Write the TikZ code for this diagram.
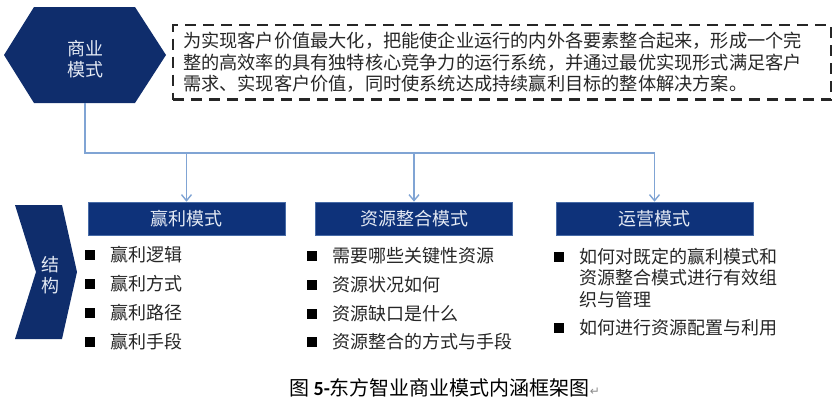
\documentclass[tikz,border=0pt]{standalone}
\usepackage{fontspec}
\setmainfont{Noto Sans CJK SC}
\newfontfamily\symfont{DejaVu Sans}
\newfontfamily\latinfont{Carlito}
\usetikzlibrary{arrows.meta}
\definecolor{navy}{RGB}{15,45,108}
\definecolor{navyb}{RGB}{14,50,122}
\definecolor{linkblue}{RGB}{128,164,212}
\definecolor{txt}{RGB}{38,38,38}
\definecolor{boxtxt}{RGB}{228,234,244}
\begin{document}
\begin{tikzpicture}[x=1pt,y=-1pt,
  mbox/.style={fill=navyb, draw=linkblue!50!navyb, line width=0.6pt,
    minimum width=197pt, minimum height=33pt, inner sep=0pt,
    text=boxtxt, font=\fontsize{18}{18}\selectfont},
  conn/.style={draw=linkblue, line width=1.6pt},
  arr/.style={conn, -{Straight Barb[length=6pt,width=10pt,line width=1.4pt]}},
  bul/.style={anchor=west, inner sep=0pt, text=txt,
    font=\fontsize{18}{21.5}\selectfont, align=left},
  sq/.style={fill=black, minimum size=10pt, inner sep=0pt},
  shapetxt/.style={text=boxtxt, align=center, inner sep=0pt,
    font=\fontsize{18}{21}\selectfont},
  dbox/.style={draw=black!85, line width=2.8pt, dash pattern=on 11pt off 7pt,
    align=left, text width=638pt, inner xsep=10pt, inner ysep=0pt,
    minimum height=74.5pt, text=txt, font=\fontsize{18.2}{21.5}\selectfont}
]
\useasboundingbox (0,0) rectangle (835,407);

% hexagon
\fill[navy] (4,55) -- (34,7) -- (135,7) -- (166,55) -- (135,103) -- (34,103) -- cycle;
\node[shapetxt] (hex) at (85,59) {商业\\模式};
\coordinate (hexb) at (85,103);

% definition box
\node[dbox] (def) at (502,62.25) {为实现客户价值最大化，把能使企业运行的内外各要素整合起来，形成一个完\\
整的高效率的具有独特核心竞争力的运行系统，并通过最优实现形式满足客户\\
需求、实现客户价值，同时使系统达成持续赢利目标的整体解决方案。};

% chevron
\fill[navy] (15,205) -- (62,205) -- (77,272) -- (62,339) -- (15,339) -- (36,272) -- cycle;
\node[shapetxt] (chev) at (50,275) {结\\构};

% three boxes
\node[mbox] (b1) at (186.5,218.5) {赢利模式};
\node[mbox] (b2) at (414,218.5) {资源整合模式};
\node[mbox] (b3) at (654.5,218.5) {运营模式};

% connectors
\draw[conn] (hexb) -- ++(0,50) coordinate (j0) -- (j0 -| b3.north);
\draw[arr] (j0 -| b1.north) -- (b1.north);
\draw[arr] (j0 -| b2.north) -- (b2.north);
\draw[arr] (j0 -| b3.north) -- (b3.north);

% column 1
\node[sq] (s11) at (90,255) {};
\node[sq] (s12) at (90,284) {};
\node[sq] (s13) at (90,313) {};
\node[sq] (s14) at (90,342) {};
\node[bul] (t11) at (110,255) {赢利逻辑};
\node[bul] (t12) at (110,284) {赢利方式};
\node[bul] (t13) at (110,313) {赢利路径};
\node[bul] (t14) at (110,342) {赢利手段};

% column 2
\node[sq] (s21) at (312,256) {};
\node[sq] (s22) at (312,285) {};
\node[sq] (s23) at (312,314) {};
\node[sq] (s24) at (312,342) {};
\node[bul] (t21) at (332,256) {需要哪些关键性资源};
\node[bul] (t22) at (332,285) {资源状况如何};
\node[bul] (t23) at (332,314) {资源缺口是什么};
\node[bul] (t24) at (332,342) {资源整合的方式与手段};

% column 3
\node[sq] (s31) at (559,257) {};
\node[sq] (s32) at (559,328) {};
\node[bul] (t31) at (579,278) {如何对既定的赢利模式和\\资源整合模式进行有效组\\织与管理};
\node[bul] (t32) at (579,328) {如何进行资源配置与利用};

% caption
\node[anchor=west, inner sep=0pt, text=black, font=\fontsize{20}{20}\selectfont] (cap) at (289,388)
  {图 {\latinfont\bfseries 5-}东方智业商业模式内涵框架图{\symfont\fontsize{12}{12}\selectfont\color{black!45}↵}};
\end{tikzpicture}
\end{document}
